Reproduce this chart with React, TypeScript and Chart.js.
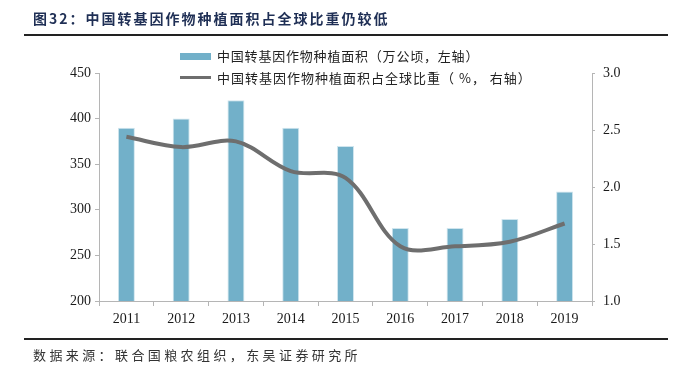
import React, { useEffect, useRef } from "react";
import { Chart, registerables } from "chart.js";

Chart.register(...registerables);

const years = ["2011", "2012", "2013", "2014", "2015", "2016", "2017", "2018", "2019"];
const areaValues = [390, 400, 420, 390, 370, 280, 280, 290, 320];
const shareValues = [2.44, 2.35, 2.4, 2.14, 2.08, 1.48, 1.48, 1.52, 1.68];
const leftTicks = { min: 200, max: 450, step: 50 };
const rightTicks = { min: 1.0, max: 3.0, step: 0.5 };

const titleText = "图32：中国转基因作物种植面积占全球比重仍较低";
const barLabel = "中国转基因作物种植面积（万公顷，左轴）";
const lineLabel = "中国转基因作物种植面积占全球比重（ %， 右轴）";
const sourceText = "数据来源：联合国粮农组织，东吴证券研究所";

const BAR_COLOR = "#72b0c9";
const LINE_COLOR = "#6e6e6e";
const AXIS_COLOR = "#b5b5b5";
const TICK_FONT = { family: "'Liberation Serif', 'Times New Roman', serif", size: 14 };
const CJK = "'Noto Sans CJK SC', 'Noto Sans', sans-serif";

export default function App() {
  const canvasRef = useRef<HTMLCanvasElement | null>(null);

  useEffect(() => {
    document.body.style.margin = "0";
    const canvas = canvasRef.current;
    if (!canvas) return;
    const chart = new Chart(canvas, {
      type: "bar",
      data: {
        labels: years,
        datasets: [
          {
            type: "line",
            label: lineLabel,
            data: shareValues,
            yAxisID: "yR",
            borderColor: LINE_COLOR,
            backgroundColor: LINE_COLOR,
            borderWidth: 4,
            pointRadius: 0,
            tension: 0.35,
            order: 0,
          } as any,
          {
            type: "bar",
            label: barLabel,
            data: areaValues,
            yAxisID: "yL",
            backgroundColor: BAR_COLOR,
            borderColor: "#cfe5ee",
            borderWidth: { left: 1, right: 1, top: 1, bottom: 0 },
            barPercentage: 0.31,
            categoryPercentage: 1,
            order: 1,
          } as any,
        ],
      },
      options: {
        responsive: false,
        animation: false,
        devicePixelRatio: 1,
        layout: { padding: { top: 73, left: 0, right: 0, bottom: 0 } },
        plugins: {
          legend: { display: false },
          tooltip: { enabled: false },
          title: { display: false },
        },
        scales: {
          x: {
            offset: true,
            grid: {
              offset: true,
              drawOnChartArea: false,
              drawTicks: true,
              tickLength: 5,
              color: AXIS_COLOR,
            },
            border: { color: AXIS_COLOR, width: 1 },
            ticks: { font: TICK_FONT, color: "#1a1a1a", padding: 5, maxRotation: 0 },
            afterFit: (s: any) => {
              s.height = 65;
            },
          },
          yL: {
            type: "linear",
            position: "left",
            min: leftTicks.min,
            max: leftTicks.max,
            ticks: { stepSize: leftTicks.step, font: TICK_FONT, color: "#1a1a1a", padding: 4 },
            grid: { drawOnChartArea: false, tickLength: 4, color: AXIS_COLOR },
            border: { color: AXIS_COLOR, width: 1 },
            afterFit: (s: any) => {
              s.width = 99;
            },
          },
          yR: {
            type: "linear",
            position: "right",
            min: rightTicks.min,
            max: rightTicks.max,
            ticks: {
              stepSize: rightTicks.step,
              font: TICK_FONT,
              color: "#1a1a1a",
              padding: 8,
              callback: (v: any) => Number(v).toFixed(1),
            },
            grid: { drawOnChartArea: false, tickLength: 3, color: AXIS_COLOR },
            border: { color: AXIS_COLOR, width: 1 },
            afterFit: (s: any) => {
              s.width = 84;
            },
          },
        },
      },
    });
    return () => chart.destroy();
  }, []);

  const abs: React.CSSProperties = { position: "absolute", whiteSpace: "pre", lineHeight: 1 };

  return (
    <div style={{ position: "relative", width: 676, height: 366, background: "#fff", overflow: "hidden" }}>
      <canvas ref={canvasRef} width={676} height={366} style={{ position: "absolute", left: 0, top: 0, width: 676, height: 366 }} />
      <div style={{ ...abs, left: 33, top: 11, fontFamily: CJK, fontSize: 14, fontWeight: 700, letterSpacing: 2, color: "#1f2f55" }}>
        {titleText}
      </div>
      <div style={{ position: "absolute", left: 24, top: 34, width: 644, height: 2, background: "#222" }} />
      <div style={{ position: "absolute", left: 180, top: 53, width: 31, height: 7, background: BAR_COLOR }} />
      <div style={{ ...abs, left: 217, top: 49, fontFamily: CJK, fontSize: 13, letterSpacing: 0.8, color: "#222" }}>
        {barLabel}
      </div>
      <div style={{ position: "absolute", left: 180, top: 76, width: 31, height: 3, background: LINE_COLOR }} />
      <div style={{ ...abs, left: 217, top: 71, fontFamily: CJK, fontSize: 13, letterSpacing: 1, color: "#222" }}>
        {lineLabel}
      </div>
      <div style={{ position: "absolute", left: 24, top: 338, width: 644, height: 2, background: "#222" }} />
      <div style={{ ...abs, left: 33, top: 348, fontFamily: CJK, fontSize: 13, letterSpacing: 3.4, color: "#333" }}>
        {sourceText}
      </div>
    </div>
  );
}
